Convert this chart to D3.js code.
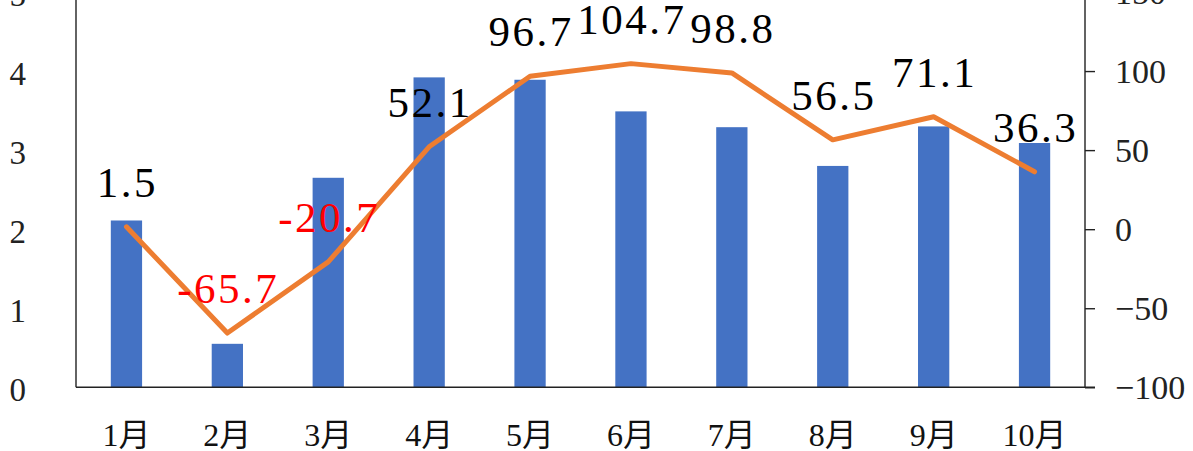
<!DOCTYPE html>
<html><head><meta charset="utf-8">
<script src="https://cdn.jsdelivr.net/npm/d3@7"></script>
<style>html,body{margin:0;padding:0;background:#fff;overflow:hidden}</style>
</head><body>
<svg id="c" width="1193" height="451"></svg>
<script>
const categories = ["1月","2月","3月","4月","5月","6月","7月","8月","9月","10月"];
const barValues = [2.11, 0.55, 2.65, 3.92, 3.89, 3.49, 3.29, 2.8, 3.3, 3.09];
const lineValues = [1.5, -65.7, -20.7, 52.1, 96.7, 104.7, 98.8, 56.5, 71.1, 36.3];
const leftTicks = [0,1,2,3,4,5];
const rightTicks = [-100,-50,0,50,100,150];

const svg = d3.select("#c");
const L = 76, R = 1085, B = 387.3, T = -8;
const serif = "Liberation Serif, Times New Roman, DejaVu Serif, Noto Sans CJK SC, serif";

const x = d3.scaleBand().domain(categories).range([L, R]).paddingInner(0.69).paddingOuter(0.345);
const yL = d3.scaleLinear().domain([0,5]).range([B, T]);
const yR = d3.scaleLinear().domain([-100,150]).range([B, T]);

// bars
svg.append("g").selectAll("rect").data(barValues).join("rect")
  .attr("x", (d,i)=>x(categories[i]))
  .attr("width", x.bandwidth())
  .attr("y", d=>yL(d))
  .attr("height", d=>B - yL(d))
  .attr("fill", "#4472C4");

// axes lines
const axisColor = "#222";
svg.append("line").attr("x1",L).attr("x2",L).attr("y1",T).attr("y2",B).attr("stroke",axisColor).attr("stroke-width",1.4);
svg.append("line").attr("x1",L).attr("x2",R).attr("y1",B).attr("y2",B).attr("stroke",axisColor).attr("stroke-width",1.4);

// right axis via d3 axis
const rAxis = svg.append("g").attr("transform",`translate(${R},0)`)
  .call(d3.axisRight(yR).tickValues(rightTicks).tickSize(10).tickPadding(20)
    .tickFormat(d => d < 0 ? "\u2212" + Math.abs(d) : String(d)));
rAxis.select(".domain").attr("stroke",axisColor).attr("stroke-width",1.4).attr("d",`M10,${T}H0V${B}H10`);
rAxis.selectAll(".tick line").attr("stroke",axisColor).attr("stroke-width",1.4);
rAxis.selectAll("text").attr("font-family",serif).attr("font-size",34).attr("fill","#222").attr("dy","0.34em");

// left axis labels
const lAxis = svg.append("g").attr("transform",`translate(${L},0)`)
  .call(d3.axisLeft(yL).tickValues(leftTicks).tickSize(0).tickPadding(50).tickFormat(d3.format("d")));
lAxis.select(".domain").remove();
lAxis.selectAll("text").attr("font-family",serif).attr("font-size",33).attr("fill","#222").attr("dy","0.4em");

// x category labels
svg.append("g").selectAll("text").data(categories).join("text")
  .attr("x", d=>x(d)+x.bandwidth()/2)
  .attr("y", 446)
  .attr("text-anchor","middle")
  .attr("font-family",serif)
  .attr("font-size",32)
  .attr("fill","#111")
  .text(d=>d);

// line
const line = d3.line().x((d,i)=>x(categories[i])+x.bandwidth()/2).y(d=>yR(d));
svg.append("path").datum(lineValues).attr("d",line)
  .attr("fill","none").attr("stroke","#ED7D31").attr("stroke-width",5)
  .attr("stroke-linecap","round").attr("stroke-linejoin","round");

// data labels
svg.append("g").selectAll("text").data(lineValues).join("text")
  .attr("x",(d,i)=>x(categories[i])+x.bandwidth()/2 + 1)
  .attr("y",d=>yR(d)-30)
  .attr("text-anchor","middle")
  .attr("font-family",serif)
  .attr("font-size",43)
  .attr("letter-spacing","2.5px")
  .attr("fill",d=>d<0?"#FF0000":"#000")
  .text(d=>d.toFixed(1));
</script>
</body></html>
